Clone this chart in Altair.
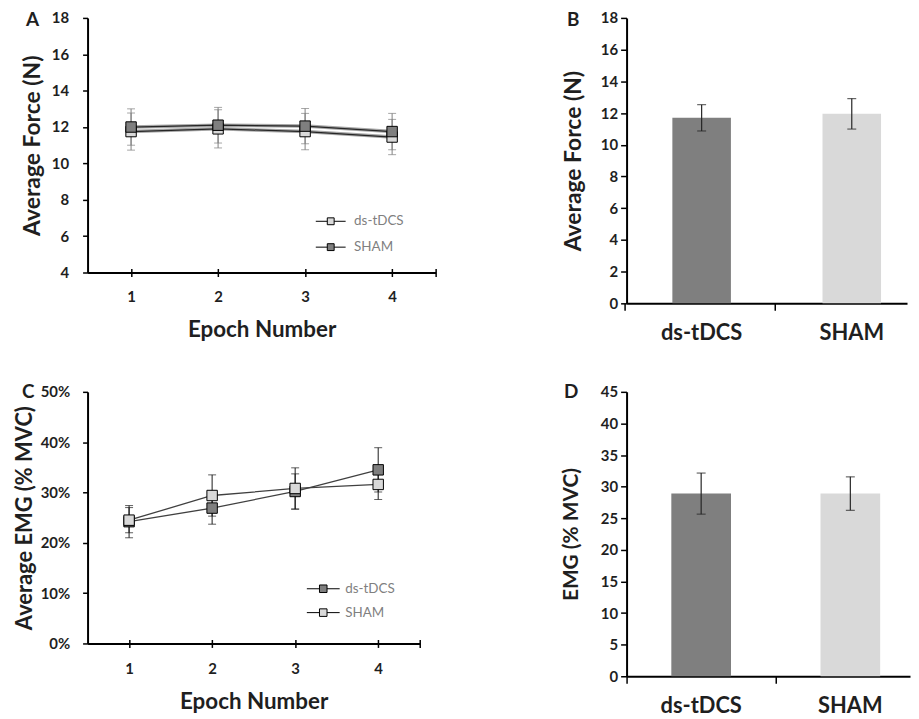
import altair as alt
import pandas as pd

epochs = [1, 2, 3, 4]
groups = ["ds-tDCS", "SHAM"]

# Panel A: average force per epoch (N)
force_ds = [11.75, 11.9, 11.75, 11.45]
force_ds_err = [1.02, 1.05, 1.0, 0.97]
force_sham = [12.0, 12.1, 12.05, 11.75]
force_sham_err = [1.0, 0.98, 0.97, 1.0]

# Panel B: average force (N)
force_bar = [11.7, 11.95]
force_bar_err = [0.83, 0.96]

# Panel C: average EMG per epoch (% MVC)
emg_ds = [24.2, 26.9, 30.2, 34.5]
emg_ds_err = [3.2, 3.2, 3.5, 4.4]
emg_sham = [24.5, 29.4, 30.8, 31.6]
emg_sham_err = [2.5, 4.1, 4.1, 3.0]

# Panel D: EMG (% MVC)
emg_bar = [28.9, 28.9]
emg_bar_err = [3.25, 2.65]

FONT = "Lato"
TXT = "#1f1f1f"
DARK = "#7f7f7f"
LIGHT = "#d9d9d9"
LEG_PATH = "M-1,0H-0.23M0.23,0H1M-0.23,-0.23H0.23V0.23H-0.23Z"


def long_df(ds, ds_err, sham, sham_err):
    rows = []
    for g, vals, errs in [("ds-tDCS", ds, ds_err), ("SHAM", sham, sham_err)]:
        for e, v, s in zip(epochs, vals, errs):
            rows.append({"epoch": e, "group": g, "value": v, "lo": v - s, "hi": v + s})
    return pd.DataFrame(rows)


def letter_layer(letter, dx, dy):
    return alt.Chart(pd.DataFrame({"t": [letter]})).mark_text(
        align="left", baseline="middle", fontSize=19, fontWeight="bold",
        font=FONT, color=TXT).encode(text="t:N", x=alt.value(dx), y=alt.value(dy))


def line_panel(df, colors, ydom, ystep, W, H, ytitle, ytitle_size, ytitle_x,
               ylabel_pad, xlabel_pad, xtitle_y, letter, letter_dx, letter_dy,
               err_color, line_color, halo, leg_x, leg_y, leg_row_pad,
               leg_size, leg_off, pct):
    xscale = alt.Scale(domain=[0.5, 4.5], nice=False, zero=False)
    x_axis = alt.Axis(values=[1, 2, 3, 4, 4.5],
                      labelExpr="datum.value % 1 == 0 ? datum.label : ''",
                      title="Epoch Number", titleFontSize=22.5, titleY=xtitle_y,
                      titleBaseline="middle", tickSize=4, labelPadding=xlabel_pad,
                      labelFontSize=15, grid=False)
    x_enc = alt.X("epoch:Q", scale=xscale, axis=x_axis)
    y_ticks = list(range(ydom[0], ydom[1] + 1, ystep))
    yargs = dict(values=y_ticks, title=ytitle, titleFontSize=ytitle_size,
                 titleX=ytitle_x, titleBaseline="middle", tickSize=5,
                 labelPadding=ylabel_pad, labelFontSize=15, grid=False)
    if pct:
        yargs["labelExpr"] = "datum.value + '%'"
    yscale = alt.Scale(domain=ydom, nice=False, zero=False)
    y_axis = alt.Axis(**yargs)

    base = alt.Chart(df)
    err = base.mark_rule(color=err_color, strokeWidth=1).encode(
        x=x_enc, y=alt.Y("lo:Q", scale=yscale, axis=y_axis), y2="hi:Q",
        detail="group:N")
    caps = base.transform_fold(["lo", "hi"], as_=["k", "v"]).mark_tick(
        orient="horizontal", size=8, thickness=1, color=err_color).encode(
        x=x_enc, y=alt.Y("v:Q", scale=yscale, axis=y_axis), detail="group:N")
    layers = [err, caps]
    if halo:
        layers.append(base.mark_line(color="#a6a6a6", strokeWidth=3.5).encode(
            x=x_enc, y=alt.Y("value:Q", scale=yscale, axis=y_axis),
            detail="group:N"))
    line = base.mark_line(color=line_color, strokeWidth=1.3).encode(
        x=x_enc, y=alt.Y("value:Q", scale=yscale, axis=y_axis), detail="group:N")
    layers.append(line)
    pts = base.mark_point(shape="square", filled=True, size=110, stroke="black",
                          strokeWidth=1, opacity=1).encode(
        x=x_enc, y=alt.Y("value:Q", scale=yscale, axis=y_axis),
        fill=alt.Fill("group:N", scale=alt.Scale(domain=groups, range=colors),
                      legend=alt.Legend(orient="none", legendX=leg_x, legendY=leg_y,
                                        title=None, symbolType=LEG_PATH,
                                        symbolSize=leg_size, symbolStrokeWidth=1,
                                        symbolStrokeColor="#000000",
                                        labelColor="#7f7f7f", labelFontSize=13.5,
                                        labelFont=FONT, labelOffset=leg_off,
                                        rowPadding=leg_row_pad, padding=0)))
    layers.append(pts)
    layers.append(letter_layer(letter, letter_dx, letter_dy))
    inner = alt.layer(*layers)
    top_ticks = base.mark_point(opacity=0).encode(
        x=alt.X("epoch:Q", scale=xscale,
                axis=alt.Axis(orient="top", offset=-H, values=[1, 2, 3, 4, 4.5],
                              labels=False, domain=False, ticks=True, tickSize=4,
                              title=None, grid=False)),
        y=alt.Y("value:Q", scale=yscale, axis=y_axis))
    return alt.layer(inner, top_ticks).resolve_axis(x="independent").properties(
        width=W, height=H)


def bar_panel(vals, errs, ydom, ystep, W, H, pi, po, align, bandpos,
              ytitle, ytitle_size, ytitle_x, letter, letter_dx, letter_dy):
    df = pd.DataFrame({"group": groups, "value": vals,
                       "lo": [v - e for v, e in zip(vals, errs)],
                       "hi": [v + e for v, e in zip(vals, errs)]})
    x_enc = alt.X("group:N", sort=groups,
                  scale=alt.Scale(domain=groups, paddingInner=pi, paddingOuter=po,
                                  align=align),
                  axis=alt.Axis(title=None, labelAngle=0, bandPosition=bandpos,
                                tickSize=7, labelPadding=12,
                                labelFontSize=22, ticks=True, grid=False))
    yscale = alt.Scale(domain=ydom, nice=False)
    y_axis = alt.Axis(values=list(range(ydom[0], ydom[1] + 1, ystep)),
                      title=ytitle, titleFontSize=ytitle_size, titleX=ytitle_x,
                      titleBaseline="middle", tickSize=6, labelPadding=3,
                      labelFontSize=15, grid=False)
    base = alt.Chart(df)
    bars = base.mark_bar().encode(
        x=x_enc, y=alt.Y("value:Q", scale=yscale, axis=y_axis),
        color=alt.Color("group:N", scale=alt.Scale(domain=groups, range=[DARK, LIGHT]),
                        legend=None))
    err = base.mark_rule(color="#262626", strokeWidth=1.2).encode(
        x=x_enc, y=alt.Y("lo:Q", scale=yscale, axis=y_axis), y2="hi:Q")
    caps = base.transform_fold(["lo", "hi"], as_=["k", "v"]).mark_tick(
        orient="horizontal", size=9, thickness=1.2, color="#262626").encode(
        x=x_enc, y=alt.Y("v:Q", scale=yscale, axis=y_axis))
    return alt.layer(bars, err, caps,
                     letter_layer(letter, letter_dx, letter_dy)).properties(
        width=W, height=H)


A = line_panel(long_df(force_ds, force_ds_err, force_sham, force_sham_err),
               [LIGHT, DARK], [4, 18], 2, 350, 256, "Average Force (N)", 23, -55,
               14, 13, 57, "A", -62, 2, "#7f7f7f", "#262626", True,
               229, 189, 4, 900, 8, False)
B = bar_panel(force_bar, force_bar_err, [0, 18], 2, 282, 287, 0.61, 0.239, 0.638,
              -0.8, "Average Force (N)", 23, -53, "B", -60, 2)
C = line_panel(long_df(emg_ds, emg_ds_err, emg_sham, emg_sham_err),
               [DARK, LIGHT], [0, 50], 10, 334, 253, "Average EMG (% MVC)", 22, -63,
               13, 14, 58, "C", -66, 0, "#1a1a1a", "#404040", False,
               220, 181, -8, 1089, 5, True)
D = bar_panel(emg_bar, emg_bar_err, [0, 45], 5, 285, 286, 0.6, 0.25, 0.6,
              -0.75, "EMG (% MVC)", 21, -55, "D", -63, 0)

chart = alt.concat(A, B, C, D, columns=2, spacing={"row": 89, "column": 192},
                   bounds="flush").resolve_scale(
    fill="independent", color="independent"
).resolve_legend(fill="independent").properties(
    padding={"left": 5, "top": 0, "right": 0, "bottom": 0}
).configure_axis(
    domainColor="black", domainWidth=2, tickColor="black", tickWidth=1.5,
    labelFont=FONT, labelFontWeight="bold", labelColor=TXT,
    titleFont=FONT, titleFontWeight="bold", titleColor=TXT
).configure_view(stroke="transparent")

chart.save("out.html", embed_options={"renderer": "svg", "actions": False})
